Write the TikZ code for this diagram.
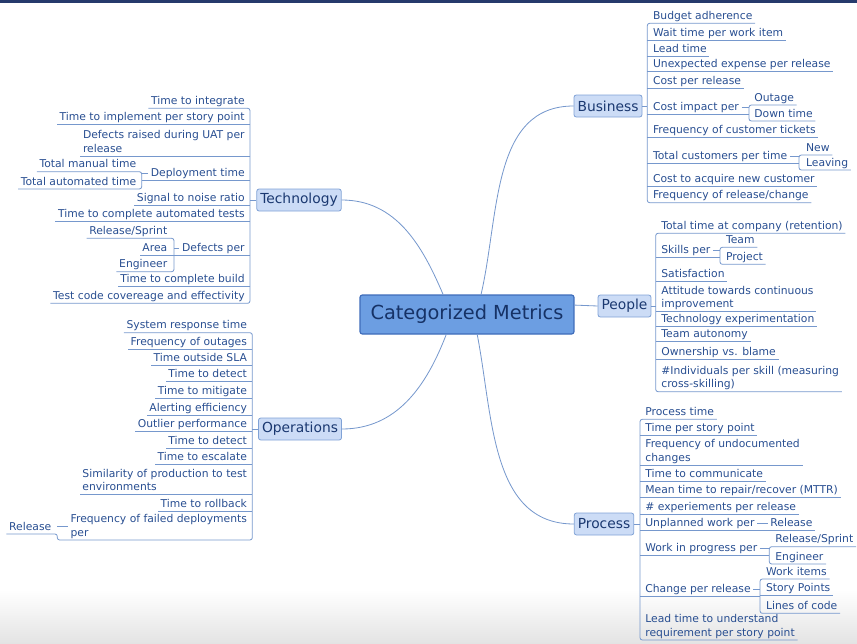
\documentclass[tikz,border=0pt]{standalone}
\usepackage{fontspec}
\setmainfont{DejaVu Sans}
\definecolor{leaftext}{RGB}{40,78,145}
\definecolor{linecol}{RGB}{118,152,205}
\definecolor{catfill}{RGB}{204,220,246}
\definecolor{catdraw}{RGB}{128,162,214}
\definecolor{cattext}{RGB}{26,56,112}
\definecolor{mainfill}{RGB}{108,158,226}
\definecolor{maindraw}{RGB}{62,108,186}
\definecolor{maintext}{RGB}{22,50,102}
\definecolor{topbar}{RGB}{38,58,108}
\tikzset{
leaf/.style={font=\fontsize{9.2}{11.5}\selectfont, text=leaftext, inner xsep=2pt, inner ysep=1pt, align=left, execute at begin node=\vphantom{Tg}}, % underlined item
rleaf/.style={leaf, anchor=south west}, % item right of its rail
lleaf/.style={leaf, anchor=south east}, % item left of its rail
topic/.style={draw=catdraw, fill=catfill, text=cattext, rounded corners=2pt, font=\fontsize{11.8}{14}\selectfont, inner xsep=3pt, minimum height=0.66cm},
central/.style={draw=maindraw, fill=mainfill, text=maintext, rounded corners=2pt, line width=1pt, font=\fontsize{16.5}{20}\selectfont, inner xsep=9pt, minimum height=1.17cm},
}

\begin{document}
\begin{tikzpicture}[x=0.03cm, y=-0.03cm, line width=0.7pt, color=linecol]
\useasboundingbox (0,0) rectangle (857,644);
\shade[top color=white, bottom color=black!11] (0,590) rectangle (857,644);
\fill[topbar] (0,0) rectangle (857,2.5);

\node[central] at (467,314.5) (main) {Categorized Metrics};
\node[topic] at (299,200) (tech) {Technology};
\node[topic] at (300,429) (oper) {Operations};
\node[topic] at (608,106) (busi) {Business};
\node[topic] at (624.5,306) (peop) {People};
\node[topic] at (604,524) (proc) {Process};

% rails
\coordinate (railT) at (250,0);
\coordinate (railO) at (252.3,0);
\coordinate (railB) at (647.3,0);
\coordinate (railP) at (655.7,0);
\coordinate (railR) at (640,0);
\coordinate (t4r) at (141.7,0);
\coordinate (t7r) at (174,0);
\coordinate (o12r) at (57.3,0);
\coordinate (b6r) at (749,0);
\coordinate (b8r) at (799,0);
\coordinate (p2r) at (720,0);
\coordinate (r8r) at (769.3,0);
\coordinate (r9r) at (760,0);

% Technology
\node[lleaf] at (247.4,108.3) (t1) {Time to integrate};
\node[lleaf] at (247.4,124.3) (t2) {Time to implement per story point};
\node[lleaf] at (247.4,156) (t3) {Defects raised during UAT per\\release};
\node[lleaf] at (247.4,180) (t4) {Deployment time};
\node[lleaf] at (139,171.7) (t4a) {Total manual time};
\node[lleaf] at (139,189) (t4b) {Total automated time};
\node[lleaf] at (247.4,205) (t5) {Signal to noise ratio};
\node[lleaf] at (247.4,221.7) (t6) {Time to complete automated tests};
\node[lleaf] at (247.4,255) (t7) {Defects per};
\node[lleaf] at (170,238.3) (t7a) {Release/Sprint};
\node[lleaf] at (170,255) (t7b) {Area};
\node[lleaf] at (170,271.7) (t7c) {Engineer};
\node[lleaf] at (247.4,286.7) (t8) {Time to complete build};
\node[lleaf] at (247.4,303.3) (t9) {Test code covereage and effectivity};

% Operations
\node[lleaf] at (249.7,332.7) (o1) {System response time};
\node[lleaf] at (249.7,349.3) (o2) {Frequency of outages};
\node[lleaf] at (249.7,365.7) (o3) {Time outside SLA};
\node[lleaf] at (249.7,381.7) (o4) {Time to detect};
\node[lleaf] at (249.7,398.3) (o5) {Time to mitigate};
\node[lleaf] at (249.7,415) (o6) {Alerting efficiency};
\node[lleaf] at (249.7,431.7) (o7) {Outlier performance};
\node[lleaf] at (249.7,448.3) (o8) {Time to detect};
\node[lleaf] at (249.7,464.3) (o9) {Time to escalate};
\node[lleaf] at (249.7,494.3) (o10) {Similarity of production to test\\environments};
\node[lleaf] at (249.7,511) (o11) {Time to rollback};
\node[lleaf] at (249.7,540) (o12) {Frequency of failed deployments\\per};
\node[lleaf] at (54,534) (o12a) {Release};

% Business
\node[rleaf] at (650.3,23.3) (b1) {Budget adherence};
\node[rleaf] at (650.3,40) (b2) {Wait time per work item};
\node[rleaf] at (650.3,56) (b3) {Lead time};
\node[rleaf] at (650.3,71.7) (b4) {Unexpected expense per release};
\node[rleaf] at (650.3,88) (b5) {Cost per release};
\node[rleaf] at (650.3,114.3) (b6) {Cost impact per};
\node[rleaf] at (751.6,105) (b6a) {Outage};
\node[rleaf] at (751.6,121) (b6b) {Down time};
\node[rleaf] at (650.3,137.7) (b7) {Frequency of customer tickets};
\node[rleaf] at (650.3,163) (b8) {Total customers per time};
\node[rleaf] at (803.3,155) (b8a) {New};
\node[rleaf] at (803.3,170) (b8b) {Leaving};
\node[rleaf] at (650.3,186.7) (b9) {Cost to acquire new customer};
\node[rleaf] at (650.3,202.7) (b10) {Frequency of release/change};

% People
\node[rleaf] at (658.6,233.3) (p1) {Total time at company (retention)};
\node[rleaf] at (658.6,257.7) (p2) {Skills per};
\node[rleaf] at (723.3,247.3) (p2a) {Team};
\node[rleaf] at (723.3,264.3) (p2b) {Project};
\node[rleaf] at (658.6,281) (p3) {Satisfaction};
\node[rleaf] at (658.6,311.7) (p4) {Attitude towards continuous\\improvement};
\node[rleaf] at (658.6,326.7) (p5) {Technology experimentation};
\node[rleaf] at (658.6,341.7) (p6) {Team autonomy};
\node[rleaf] at (658.6,359) (p7) {Ownership vs. blame};
\node[rleaf] at (658.6,391.7) (p8) {\#Individuals per skill (measuring\\cross-skilling)};

% Process
\node[rleaf] at (642.6,419.3) (r1) {Process time};
\node[rleaf] at (642.6,435) (r2) {Time per story point};
\node[rleaf] at (642.6,465) (r3) {Frequency of undocumented\\changes};
\node[rleaf] at (642.6,481) (r4) {Time to communicate};
\node[rleaf] at (642.6,497.7) (r5) {Mean time to repair/recover (MTTR)};
\node[rleaf] at (642.6,514) (r6) {\# experiements per release};
\node[rleaf] at (642.6,530) (r7) {Unplanned work per};
\node[rleaf] at (767.6,530) (r7a) {Release};
\node[rleaf] at (642.6,555) (r8) {Work in progress per};
\node[rleaf] at (772.6,546.7) (r8a) {Release/Sprint};
\node[rleaf] at (772.6,564) (r8b) {Engineer};
\node[rleaf] at (642.6,596.7) (r9) {Change per release};
\node[rleaf] at (763.3,579) (r9a) {Work items};
\node[rleaf] at (763.3,595) (r9b) {Story Points};
\node[rleaf] at (763.3,613.3) (r9c) {Lines of code};
\node[rleaf] at (642.6,640) (r10) {Lead time to understand\\requirement per story point};

% branches from the centre
\draw (tech.east) to[out=0,in=113] (main.140);
\draw (main.55) to[out=77,in=180] (busi.west);
\draw (oper.east) to[out=0,in=249] (main.224);
\draw (main.297) to[out=281,in=180] (proc.west);
\draw (main.5) -- (peop.west);

% Technology lines
\draw[rounded corners=2pt] (t1.south west) -- (t1.south -| railT) -- (t9.south -| railT) -- (t9.south west);
\draw[rounded corners=2pt] (t4a.south west) -- (t4a.south -| t4r) -- (t4b.south -| t4r) -- (t4b.south west);
\draw[rounded corners=2pt] (t7a.south west) -- (t7a.south -| t7r) -- (t7c.south -| t7r) -- (t7c.south west);
\draw
(tech.west) -- (tech.west -| railT)
(t2.south -| railT) -- (t2.south west)
(t3.south -| railT) -- (t3.south west)
(t4.south -| railT) -- (t4.south -| t4r)
(t5.south -| railT) -- (t5.south west)
(t6.south -| railT) -- (t6.south west)
(t7.south -| railT) -- (t7.south -| t7r)
(t8.south -| railT) -- (t8.south west)
(t4.west) -- (t4.west -| t4r)
(t7.west) -- (t7.west -| t7r)
(t7b.south -| t7r) -- (t7b.south west)
;

% Operations lines
\draw[rounded corners=2pt] (o1.south west) -- (o1.south -| railO) -- (o12.south -| railO) -- (o12.south -| o12r) -- (o12a.south -| o12r) -- (o12a.south west);
\draw
(oper.west) -- (oper.west -| railO)
(o2.south -| railO) -- (o2.south west)
(o3.south -| railO) -- (o3.south west)
(o4.south -| railO) -- (o4.south west)
(o5.south -| railO) -- (o5.south west)
(o6.south -| railO) -- (o6.south west)
(o7.south -| railO) -- (o7.south west)
(o8.south -| railO) -- (o8.south west)
(o9.south -| railO) -- (o9.south west)
(o10.south -| railO) -- (o10.south west)
(o11.south -| railO) -- (o11.south west)
(o12.west) -- (o12.west -| o12r)
;

% Business lines
\draw[rounded corners=2pt] (b1.south east) -- (b1.south -| railB) -- (b10.south -| railB) -- (b10.south east);
\draw[rounded corners=2pt] (b6a.south east) -- (b6a.south -| b6r) -- (b6b.south -| b6r) -- (b6b.south east);
\draw[rounded corners=2pt] (b8a.south east) -- (b8a.south -| b8r) -- (b8b.south -| b8r) -- (b8b.south east);
\draw
(busi.east) -- (busi.east -| railB)
(b2.south -| railB) -- (b2.south east)
(b3.south -| railB) -- (b3.south east)
(b4.south -| railB) -- (b4.south east)
(b5.south -| railB) -- (b5.south east)
(b6.south -| railB) -- (b6.south -| b6r)
(b7.south -| railB) -- (b7.south east)
(b8.south -| railB) -- (b8.south -| b8r)
(b9.south -| railB) -- (b9.south east)
(b6.east) -- (b6.east -| b6r)
(b8.east) -- (b8.east -| b8r)
;

% People lines
\draw[rounded corners=2pt] (p1.south east) -- (p1.south -| railP) -- (p8.south -| railP) -- (p8.south east);
\draw[rounded corners=2pt] (p2a.south east) -- (p2a.south -| p2r) -- (p2b.south -| p2r) -- (p2b.south east);
\draw
(peop.east) -- (peop.east -| railP)
(p2.south -| railP) -- (p2.south -| p2r)
(p3.south -| railP) -- (p3.south east)
(p4.south -| railP) -- (p4.south east)
(p5.south -| railP) -- (p5.south east)
(p6.south -| railP) -- (p6.south east)
(p7.south -| railP) -- (p7.south east)
(p2.east) -- (p2.east -| p2r)
;

% Process lines
\draw[rounded corners=2pt] (r1.south east) -- (r1.south -| railR) -- (r10.south -| railR) -- (r10.south east);
\draw[rounded corners=2pt] (r8a.south east) -- (r8a.south -| r8r) -- (r8b.south -| r8r) -- (r8b.south east);
\draw[rounded corners=2pt] (r9a.south east) -- (r9a.south -| r9r) -- (r9c.south -| r9r) -- (r9c.south east);
\draw
(proc.east) -- (proc.east -| railR)
(r2.south -| railR) -- (r2.south east)
(r3.south -| railR) -- (r3.south east)
(r4.south -| railR) -- (r4.south east)
(r5.south -| railR) -- (r5.south east)
(r6.south -| railR) -- (r6.south east)
(r7.south -| railR) -- (r7a.south east)
(r8.south -| railR) -- (r8.south -| r8r)
(r9.south -| railR) -- (r9.south -| r9r)
(r7.east) -- (r7a.west)
(r8.east) -- (r8.east -| r8r)
(r9.east) -- (r9.east -| r9r)
(r9b.south -| r9r) -- (r9b.south east)
;
\end{tikzpicture}
\end{document}
